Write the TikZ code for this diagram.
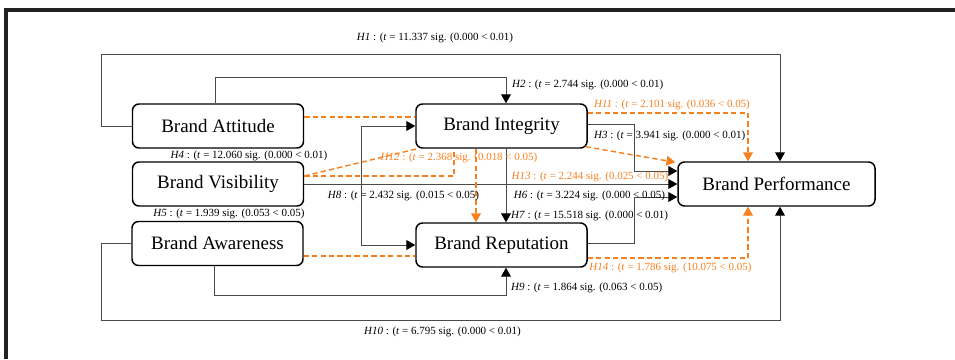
\documentclass[tikz,border=0pt]{standalone}
\usepackage{fontspec}
\setmainfont{Liberation Serif}
\usepackage{xcolor}
\usepackage{tikz}
\usetikzlibrary{arrows.meta, calc}
\definecolor{framegray}{HTML}{222222}
\definecolor{linkgray}{HTML}{4A4A4A}
\definecolor{medorange}{HTML}{F7801E}
\tikzset{
  construct/.style={
    draw=black, line width=0.85pt, fill=white,
    rounded corners=0.13cm,
    minimum width=3.42cm, minimum height=0.88cm,
    align=center, font=\fontsize{10.8}{12}\selectfont
  },
  link/.style={
    -{Triangle[length=5pt, width=5.5pt, color=black]},
    line width=0.5pt, color=linkgray
  },
  plainlink/.style={line width=0.5pt, color=linkgray},
  medlink/.style={
    -{Triangle[length=5pt, width=5.5pt]},
    line width=0.8pt, color=medorange,
    dash pattern=on 3pt off 1.8pt
  },
  medline/.style={
    line width=0.8pt, color=medorange,
    dash pattern=on 3pt off 1.8pt
  },
  hlabel/.style={font=\fontsize{6.25}{7}\selectfont, inner sep=1pt},
  medlabel/.style={hlabel, text=medorange}
}

\begin{document}
\begin{tikzpicture}
  \useasboundingbox (0,0) rectangle (19.1,7.18);

  % Page frame
  \draw[framegray, line width=0.07cm] (0.12,0) -- (0.12,6.98) -- (19.1,6.98);

  % Constructs
  \node[construct] (att) at (4.36, 4.66) {Brand Attitude};
  \node[construct] (vis) at (4.36, 3.5) {Brand Visibility};
  \node[construct] (awa) at (4.35, 2.31) {Brand Awareness};
  \node[construct] (int) at (10.03, 4.66) {Brand Integrity};
  \node[construct] (rep) at (10.03, 2.28) {Brand Reputation};
  \node[construct, minimum width=3.94cm] (perf) at (15.53, 3.5) {Brand Performance};

  % Direct paths
  \draw[link] (att.west) -| ++(-0.6,1.44) -| ([xshift=0.07cm]perf.north);
  \draw[link] ([xshift=-0.06cm]att.north) -- ++(0,0.52) -| ([xshift=0.09cm]int.north);
  \draw[link] ([yshift=0.04cm]int.east) -- ++(0.94,0) |- ([yshift=0.26cm]perf.west);
  \draw[link] (vis.east) -- (perf.west);
  \draw[{Triangle[length=5pt, width=5.5pt, color=black]}-{Triangle[length=5pt, width=5.5pt, color=black]}, plainlink]
    (int.west) -- ++(-1.08,0) |- (rep.west);
  \draw[link] ([xshift=0.09cm]int.south) -- ([xshift=0.09cm]rep.north);
  \draw[link] ([yshift=0.04cm]rep.east) -- ++(0.94,0) |- ([yshift=-0.26cm]perf.west);
  \draw[link] ([xshift=-0.06cm]awa.south) -- ++(0,-0.59) -| ([xshift=0.09cm]rep.south);
  \draw[link] (awa.west) -| ++(-0.6,-1.53) -| ([xshift=0.07cm]perf.south);

  % Mediated paths
  \draw[medline] ([yshift=0.18cm]att.east) -- ([yshift=0.18cm]int.west);
  \draw[medlink] ([yshift=0.26cm]int.east) -| ([xshift=-0.57cm]perf.north);
  \draw[medlink] ([xshift=-0.04cm, yshift=0.04cm]int.south east) -- ([xshift=-0.04cm, yshift=-0.02cm]perf.north west);
  \draw[medline] ([yshift=0.16cm]vis.east) -- ([xshift=0.04cm]int.south west);
  \draw[medline] ([yshift=0.16cm]vis.east) -| ([xshift=-0.95cm]int.south);
  \draw[medlink] ([xshift=-0.51cm]int.south) -- ([xshift=-0.51cm]rep.north);
  \draw[medline] ([yshift=-0.25cm]awa.east) -- ([yshift=-0.22cm]rep.west);
  \draw[medlink] ([yshift=-0.26cm]rep.east) -| ([xshift=-0.57cm]perf.south);

  % Path coefficients
  \node[hlabel] (h1) at (8.7, 6.42) {\textit{H1} : (\textit{t} = 11.337 sig. (0.000 < 0.01)};
  \node[hlabel, anchor=west] (h2) at (10.2, 5.48) {\textit{H2} : (\textit{t} = 2.744 sig. (0.000 < 0.01)};
  \node[medlabel, anchor=west] (h11) at (11.84, 5.08) {\textit{H11} : (\textit{t} = 2.101 sig. (0.036 < 0.05)};
  \node[hlabel, anchor=west] (h3) at (11.84, 4.46) {\textit{H3} : (\textit{t} = 3.941 sig. (0.000 < 0.01)};
  \node[hlabel] (h4) at (4.98, 4.06) {\textit{H4} : (\textit{t} = 12.060 sig. (0.000 < 0.01)};
  \node[medlabel] (h12) at (9.18, 4.02) {\textit{H12} : (\textit{t} = 2.368 sig. (0.018 < 0.05)};
  \node[medlabel] (h13) at (11.8, 3.64) {\textit{H13} : (\textit{t} = 2.244 sig. (0.025 < 0.05)};
  \node[hlabel] (h8) at (8.07, 3.26) {\textit{H8} : (\textit{t} = 2.432 sig. (0.015 < 0.05)};
  \node[hlabel] (h6) at (11.79, 3.26) {\textit{H6} : (\textit{t} = 3.224 sig. (0.000 < 0.05)};
  \node[hlabel] (h5) at (4.58, 2.9) {\textit{H5} : (\textit{t} = 1.939 sig. (0.053 < 0.05)};
  \node[hlabel, anchor=west] (h7) at (10.18, 2.86) {\textit{H7} : (\textit{t} = 15.518 sig. (0.000 < 0.01)};
  \node[medlabel] (h14) at (13.41, 1.82) {\textit{H14} : (\textit{t} = 1.786 sig. (10.075 < 0.05)};
  \node[hlabel, anchor=west] (h9) at (10.18, 1.42) {\textit{H9} : (\textit{t} = 1.864 sig. (0.063 < 0.05)};
  \node[hlabel] (h10) at (8.85, 0.54) {\textit{H10} : (\textit{t} = 6.795 sig. (0.000 < 0.01)};
\end{tikzpicture}
\end{document}
